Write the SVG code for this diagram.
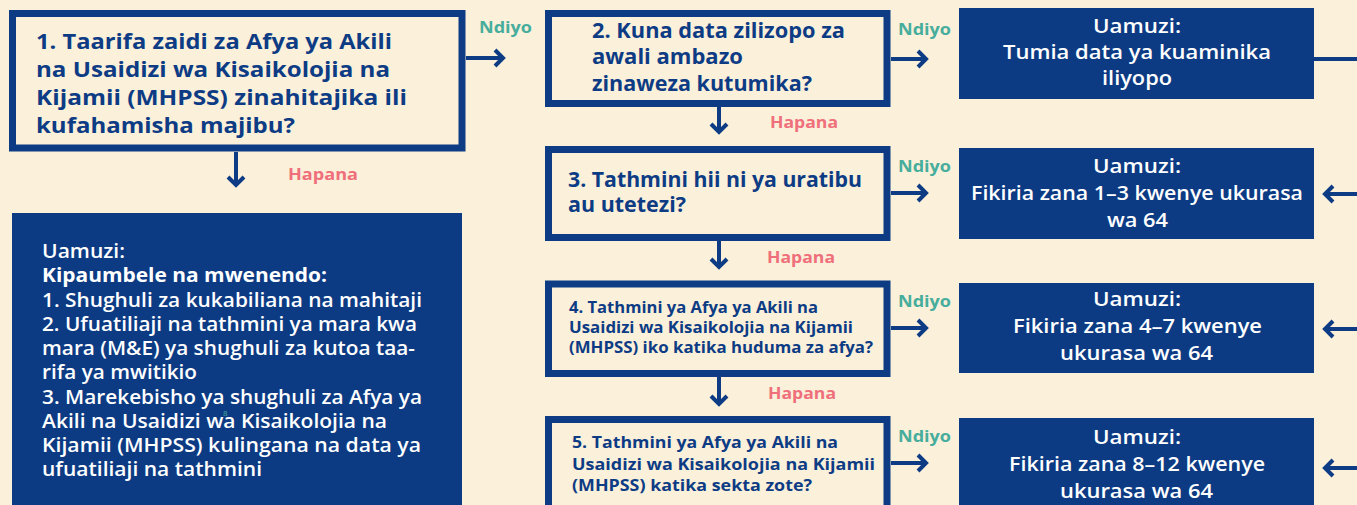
<svg xmlns="http://www.w3.org/2000/svg" width="1357" height="505" viewBox="0 0 1357 505">
<defs>
<style>
.bg{fill:#fbf0da}
.q{fill:none;stroke:#0d3c85;stroke-width:7}
.d{fill:#0c3b84}
.qt{font-family:"Open Sans","Liberation Sans",sans-serif;font-weight:700;fill:#0d3c85}
.dt{font-family:"Open Sans","Liberation Sans",sans-serif;font-weight:600;fill:#ffffff}
.yes{font-family:"Open Sans","Liberation Sans",sans-serif;font-weight:700;font-size:16.5px;fill:#47ad9c}
.no{font-family:"Open Sans","Liberation Sans",sans-serif;font-weight:700;font-size:16.5px;fill:#ef6f7b}
.c{fill:none;stroke:#0d3c85;stroke-width:4}
</style>
<marker id="ah" viewBox="-12 -12 16 24" markerWidth="16" markerHeight="24" refX="0" refY="0" orient="auto" markerUnits="userSpaceOnUse">
<path d="M-8,-8 L0,0 L-8,8" fill="none" stroke="#0d3c85" stroke-width="4"/>
</marker>
</defs>
<rect class="bg" x="0" y="0" width="1357" height="505"/>

<g id="connectors">
<line class="c" x1="466" y1="58" x2="503" y2="58" marker-end="url(#ah)"/>
<line class="c" x1="236" y1="152" x2="236" y2="185" marker-end="url(#ah)"/>
<line class="c" x1="891" y1="59" x2="926" y2="59" marker-end="url(#ah)"/>
<line class="c" x1="719" y1="107" x2="719" y2="132" marker-end="url(#ah)"/>
<line class="c" x1="891" y1="193" x2="926" y2="193" marker-end="url(#ah)"/>
<line class="c" x1="719" y1="241" x2="719" y2="267" marker-end="url(#ah)"/>
<line class="c" x1="891" y1="328" x2="926" y2="328" marker-end="url(#ah)"/>
<line class="c" x1="719" y1="377" x2="719" y2="404" marker-end="url(#ah)"/>
<line class="c" x1="891" y1="463" x2="926" y2="463" marker-end="url(#ah)"/>
<line class="c" x1="1314" y1="59" x2="1357" y2="59"/>
<line class="c" x1="1357" y1="194" x2="1325" y2="194" marker-end="url(#ah)"/>
<line class="c" x1="1357" y1="329" x2="1325" y2="329" marker-end="url(#ah)"/>
<line class="c" x1="1357" y1="468" x2="1325" y2="468" marker-end="url(#ah)"/>
<text class="yes" x="479" y="33" textLength="53" lengthAdjust="spacingAndGlyphs">Ndiyo</text>
<text class="no" x="288" y="180" textLength="70" lengthAdjust="spacingAndGlyphs">Hapana</text>
<text class="yes" x="898" y="35" textLength="53" lengthAdjust="spacingAndGlyphs">Ndiyo</text>
<text class="no" x="770" y="128" textLength="68" lengthAdjust="spacingAndGlyphs">Hapana</text>
<text class="yes" x="898" y="172" textLength="53" lengthAdjust="spacingAndGlyphs">Ndiyo</text>
<text class="no" x="767" y="263" textLength="68" lengthAdjust="spacingAndGlyphs">Hapana</text>
<text class="yes" x="898" y="307" textLength="53" lengthAdjust="spacingAndGlyphs">Ndiyo</text>
<text class="no" x="768" y="399" textLength="68" lengthAdjust="spacingAndGlyphs">Hapana</text>
<text class="yes" x="898" y="442" textLength="53" lengthAdjust="spacingAndGlyphs">Ndiyo</text>
</g>

<g id="q1">
<rect class="q" x="12.5" y="13.5" width="449.5" height="134.5"/>
<text class="qt" font-size="21.5" lengthAdjust="spacingAndGlyphs">
<tspan x="36" y="49" textLength="356" lengthAdjust="spacingAndGlyphs">1. Taarifa zaidi za Afya ya Akili</tspan>
<tspan x="36" y="77" textLength="354" lengthAdjust="spacingAndGlyphs">na Usaidizi wa Kisaikolojia na</tspan>
<tspan x="36" y="105" textLength="371" lengthAdjust="spacingAndGlyphs">Kijamii (MHPSS) zinahitajika ili</tspan>
<tspan x="36" y="133" textLength="259" lengthAdjust="spacingAndGlyphs">kufahamisha majibu?</tspan>
</text>
</g>

<g id="d0">
<rect class="d" x="12" y="213" width="450" height="300"/>
<text class="dt" font-size="19.5">
<tspan x="42" y="258" textLength="83" lengthAdjust="spacingAndGlyphs">Uamuzi:</tspan>
<tspan x="42" y="282" font-weight="700" textLength="285" lengthAdjust="spacingAndGlyphs">Kipaumbele na mwenendo:</tspan>
<tspan x="42" y="307" textLength="380" lengthAdjust="spacingAndGlyphs">1. Shughuli za kukabiliana na mahitaji</tspan>
<tspan x="42" y="331" textLength="375" lengthAdjust="spacingAndGlyphs">2. Ufuatiliaji na tathmini ya mara kwa</tspan>
<tspan x="42" y="355" textLength="373" lengthAdjust="spacingAndGlyphs">mara (M&amp;E) ya shughuli za kutoa taa-</tspan>
<tspan x="42" y="379" textLength="155" lengthAdjust="spacingAndGlyphs">rifa ya mwitikio</tspan>
<tspan x="42" y="404" textLength="380" lengthAdjust="spacingAndGlyphs">3. Marekebisho ya shughuli za Afya ya</tspan>
<tspan x="42" y="428" textLength="345" lengthAdjust="spacingAndGlyphs">Akili na Usaidizi wa Kisaikolojia na</tspan>
<tspan x="42" y="452" textLength="379" lengthAdjust="spacingAndGlyphs">Kijamii (MHPSS) kulingana na data ya</tspan>
<tspan x="42" y="476" textLength="220" lengthAdjust="spacingAndGlyphs">ufuatiliaji na tathmini</tspan>
</text>
<text x="223" y="416" font-family="Open Sans, sans-serif" font-size="8" fill="#47ad9c">8</text>
</g>

<g id="q2">
<rect class="q" x="548.5" y="13.5" width="338.5" height="90"/>
<text class="qt" font-size="20.5">
<tspan x="592" y="38" textLength="253" lengthAdjust="spacingAndGlyphs">2. Kuna data zilizopo za</tspan>
<tspan x="592" y="64" textLength="151" lengthAdjust="spacingAndGlyphs">awali ambazo</tspan>
<tspan x="592" y="91" textLength="220" lengthAdjust="spacingAndGlyphs">zinaweza kutumika?</tspan>
</text>
</g>

<g id="q3">
<rect class="q" x="548.5" y="149.5" width="338.5" height="88"/>
<text class="qt" font-size="21">
<tspan x="568" y="187" textLength="294" lengthAdjust="spacingAndGlyphs">3. Tathmini hii ni ya uratibu</tspan>
<tspan x="568" y="212" textLength="118" lengthAdjust="spacingAndGlyphs">au utetezi?</tspan>
</text>
</g>

<g id="q4">
<rect class="q" x="548.5" y="284" width="338.5" height="89.5"/>
<text class="qt" font-size="15.5">
<tspan x="569" y="313" textLength="249" lengthAdjust="spacingAndGlyphs">4. Tathmini ya Afya ya Akili na</tspan>
<tspan x="569" y="333" textLength="284" lengthAdjust="spacingAndGlyphs">Usaidizi wa Kisaikolojia na Kijamii</tspan>
<tspan x="569" y="353" textLength="304" lengthAdjust="spacingAndGlyphs">(MHPSS) iko katika huduma za afya?</tspan>
</text>
</g>

<g id="q5">
<rect class="q" x="548.5" y="419.5" width="338.5" height="100"/>
<text class="qt" font-size="16.5">
<tspan x="572" y="448" textLength="266" lengthAdjust="spacingAndGlyphs">5. Tathmini ya Afya ya Akili na</tspan>
<tspan x="572" y="470" textLength="303" lengthAdjust="spacingAndGlyphs">Usaidizi wa Kisaikolojia na Kijamii</tspan>
<tspan x="572" y="491" textLength="240" lengthAdjust="spacingAndGlyphs">(MHPSS) katika sekta zote?</tspan>
</text>
</g>

<g id="dA">
<rect class="d" x="959" y="8" width="355" height="91"/>
<text class="dt" font-size="20.5">
<tspan x="1093" y="33" textLength="88" lengthAdjust="spacingAndGlyphs">Uamuzi:</tspan>
<tspan x="1003" y="59" textLength="268" lengthAdjust="spacingAndGlyphs">Tumia data ya kuaminika</tspan>
<tspan x="1102" y="85" textLength="70" lengthAdjust="spacingAndGlyphs">iliyopo</tspan>
</text>
</g>

<g id="dB">
<rect class="d" x="959" y="148" width="355" height="91"/>
<text class="dt" font-size="20.5">
<tspan x="1093" y="173" textLength="88" lengthAdjust="spacingAndGlyphs">Uamuzi:</tspan>
<tspan x="971" y="200" textLength="332" lengthAdjust="spacingAndGlyphs">Fikiria zana 1–3 kwenye ukurasa</tspan>
<tspan x="1107" y="227" textLength="61" lengthAdjust="spacingAndGlyphs">wa 64</tspan>
</text>
</g>

<g id="dC">
<rect class="d" x="959" y="283" width="355" height="90"/>
<text class="dt" font-size="20.5">
<tspan x="1093" y="306" textLength="88" lengthAdjust="spacingAndGlyphs">Uamuzi:</tspan>
<tspan x="1013" y="333" textLength="249" lengthAdjust="spacingAndGlyphs">Fikiria zana 4–7 kwenye</tspan>
<tspan x="1060" y="360" textLength="153" lengthAdjust="spacingAndGlyphs">ukurasa wa 64</tspan>
</text>
</g>

<g id="dD">
<rect class="d" x="959" y="418" width="355" height="100"/>
<text class="dt" font-size="20.5">
<tspan x="1093" y="444" textLength="88" lengthAdjust="spacingAndGlyphs">Uamuzi:</tspan>
<tspan x="1009" y="471" textLength="256" lengthAdjust="spacingAndGlyphs">Fikiria zana 8–12 kwenye</tspan>
<tspan x="1060" y="498" textLength="153" lengthAdjust="spacingAndGlyphs">ukurasa wa 64</tspan>
</text>
</g>
</svg>
